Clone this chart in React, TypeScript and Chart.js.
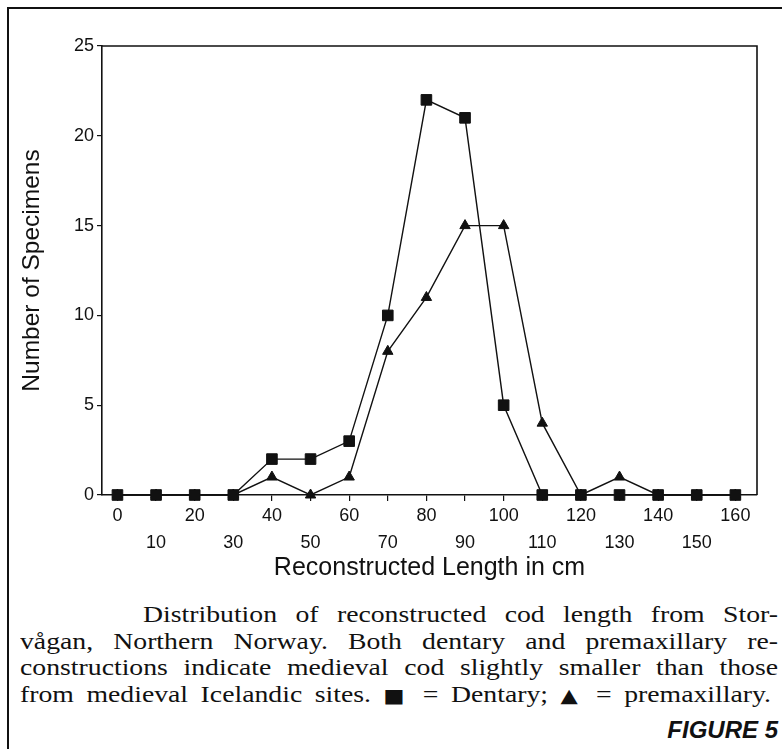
import React, { useEffect, useRef } from 'react';
import { Chart, registerables } from 'chart.js';

Chart.register(...registerables);

// ---- data ----
const LENGTHS = [0, 10, 20, 30, 40, 50, 60, 70, 80, 90, 100, 110, 120, 130, 140, 150, 160];
const DENTARY = [0, 0, 0, 0, 2, 2, 3, 10, 22, 21, 5, 0, 0, 0, 0, 0, 0];
const PREMAXILLARY = [0, 0, 0, 0, 1, 0, 1, 8, 11, 15, 15, 4, 0, 1, 0, 0, 0];
const X_TICKS = [0, 10, 20, 30, 40, 50, 60, 70, 80, 90, 100, 110, 120, 130, 140, 150, 160];
const Y_TICKS = [0, 5, 10, 15, 20, 25];
const X_TITLE = 'Reconstructed Length in cm';
const Y_TITLE = 'Number of Specimens';
const SERIES_NAMES = ['Dentary', 'premaxillary'];
const CAPTION_LINES = [
  'Distribution of reconstructed cod length from Stor-',
  'vågan, Northern Norway. Both dentary and premaxillary re-',
  'constructions indicate medieval cod slightly smaller than those',
  'from medieval Icelandic sites. \u25A0 = Dentary; \u25B2 = premaxillary.',
];
const FIGURE_LABEL = 'FIGURE 5';

const INK = '#111';
const SANS = '"Liberation Sans", Arial, Helvetica, sans-serif';
const SERIF = '"Liberation Serif", "Times New Roman", Times, serif';

const framePlugin = {
  id: 'plotFrame',
  afterDatasetsDraw(chart: any) {
    const { ctx, chartArea: a } = chart;
    ctx.save();
    ctx.strokeStyle = INK;
    ctx.lineWidth = 1.6;
    ctx.beginPath();
    ctx.moveTo(a.left, a.top);
    ctx.lineTo(a.right, a.top);
    ctx.lineTo(a.right, a.bottom);
    ctx.stroke();
    ctx.restore();
  },
};

function renderCaption(t: string) {
  const parts = t.split(/([\u25A0\u25B2])/);
  return parts.map((p, i) =>
    p === '\u25A0' || p === '\u25B2' ? (
      <span key={i} style={{ fontFamily: '"DejaVu Sans", sans-serif', fontSize: 19, verticalAlign: 'baseline' }}>
        {p}
      </span>
    ) : (
      <React.Fragment key={i}>{p}</React.Fragment>
    )
  );
}

export default function App() {
  const canvasRef = useRef<HTMLCanvasElement | null>(null);

  useEffect(() => {
    if (!canvasRef.current) return;
    const chart = new Chart(canvasRef.current, {
      type: 'line',
      data: {
        datasets: [
          {
            label: SERIES_NAMES[0],
            data: LENGTHS.map((x, i) => ({ x, y: DENTARY[i] })),
            borderColor: INK,
            backgroundColor: INK,
            borderWidth: 1.4,
            pointStyle: 'rect',
            pointRadius: 7.5,
            pointBorderWidth: 1,
            pointBackgroundColor: INK,
            pointBorderColor: INK,
            tension: 0,
            clip: false,
          },
          {
            label: SERIES_NAMES[1],
            data: LENGTHS.map((x, i) => ({ x, y: PREMAXILLARY[i] })),
            borderColor: INK,
            backgroundColor: INK,
            borderWidth: 1.4,
            pointStyle: 'triangle',
            pointRadius: 6,
            pointBorderWidth: 1,
            pointBackgroundColor: INK,
            pointBorderColor: INK,
            tension: 0,
            clip: false,
          },
        ],
      },
      options: {
        animation: false,
        responsive: true,
        maintainAspectRatio: false,
        events: [],
        layout: { padding: { top: 46, right: 25, bottom: 17, left: 0 } },
        plugins: {
          legend: { display: false },
          tooltip: { enabled: false },
          title: { display: false },
        },
        scales: {
          x: {
            type: 'linear',
            min: -4,
            max: 165.6,
            afterBuildTicks: (s: any) => {
              s.ticks = X_TICKS.map((v) => ({ value: v }));
            },
            afterFit: (s: any) => {
              s.height = 88;
            },
            ticks: {
              autoSkip: false,
              maxRotation: 0,
              minRotation: 0,
              padding: 2,
              color: INK,
              font: { family: SANS, size: 18, lineHeight: '27px' },
              callback: (v: any) => {
                const n = Number(v);
                return Math.round(n / 10) % 2 === 0 ? String(n) : ['', String(n)];
              },
            },
            grid: { drawOnChartArea: false, drawTicks: true, tickLength: 6, color: INK, lineWidth: 1.2 },
            border: { display: true, color: INK, width: 1.6 },
            title: {
              display: true,
              text: X_TITLE,
              color: INK,
              font: { family: SANS, size: 25, lineHeight: 1.2 },
              padding: { top: 0, bottom: 0 },
            },
          },
          y: {
            type: 'linear',
            min: 0,
            max: 25,
            afterBuildTicks: (s: any) => {
              s.ticks = Y_TICKS.map((v) => ({ value: v }));
            },
            afterFit: (s: any) => {
              s.width = 102;
            },
            ticks: {
              padding: 3,
              color: INK,
              font: { family: SANS, size: 18 },
            },
            grid: { drawOnChartArea: false, drawTicks: true, tickLength: 5, color: INK, lineWidth: 1.2 },
            border: { display: true, color: INK, width: 1.6 },
            title: {
              display: true,
              text: Y_TITLE,
              color: INK,
              font: { family: SANS, size: 24.5, lineHeight: 1.2 },
              padding: { top: 18, bottom: 0 },
            },
          },
        },
      },
      plugins: [framePlugin],
    } as any);
    return () => chart.destroy();
  }, []);

  const lineTop = 601;
  const lineStep = 26.7;
  const stretch = 1.18;

  return (
    <div
      style={{
        position: 'fixed',
        left: 0,
        top: 0,
        width: 782,
        height: 749,
        background: '#fff',
        overflow: 'hidden',
      }}
    >
      <div
        style={{
          position: 'absolute',
          left: 7,
          top: 7,
          right: -4,
          bottom: -4,
          borderTop: `2px solid ${INK}`,
          borderLeft: `2px solid ${INK}`,
        }}
      />
      <div style={{ position: 'absolute', left: 0, top: 0, width: 782, height: 600 }}>
        <canvas ref={canvasRef} style={{ display: 'block' }} />
      </div>
      {CAPTION_LINES.map((t, i) => {
        const left = i === 0 ? 143 : 20;
        const right = i === 3 ? 771 : 778;
        return (
          <div
            key={i}
            style={{
              position: 'absolute',
              left,
              width: (right - left) / stretch,
              top: lineTop + i * lineStep,
              height: lineStep,
              lineHeight: `${lineStep}px`,
              fontFamily: SERIF,
              fontSize: 23.5,
              color: INK,
              textAlign: 'justify',
              textAlignLast: 'justify' as any,
              transform: `scaleX(${stretch})`,
              transformOrigin: 'left top',
              whiteSpace: 'normal',
            }}
          >
            {renderCaption(t)}
          </div>
        );
      })}
      <div
        style={{
          position: 'absolute',
          right: 4,
          top: 718,
          lineHeight: '24px',
          fontFamily: SANS,
          fontSize: 24,
          fontWeight: 'bold',
          fontStyle: 'italic',
          color: INK,
        }}
      >
        {FIGURE_LABEL}
      </div>
    </div>
  );
}
